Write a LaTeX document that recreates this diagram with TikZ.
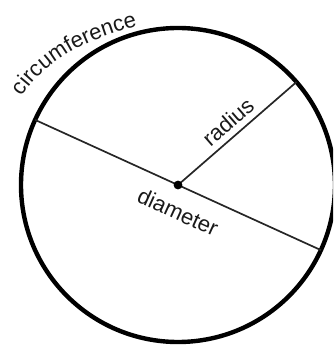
\documentclass[tikz,border=0pt]{standalone}
\usepackage{fontspec}
\setmainfont{Liberation Sans}
\usetikzlibrary{decorations.text,calc}
\begin{document}
\begin{tikzpicture}[x=1pt,y=1pt,
  rim/.style={line width=4.4pt, draw=black},
  seg/.style={line width=1.7pt, draw=black!85},
  lbl/.style={font=\fontsize{22}{26}\selectfont, text=black!90, inner sep=0pt}]
\useasboundingbox (0,0) rectangle (333,347);
\clip (0,0) rectangle (333,347);
\coordinate (O) at (178,162);
\coordinate (A) at ($(O)+(155.5:157)$);
\coordinate (B) at ($(O)+(-24.5:157)$);
\coordinate (R) at ($(O)+(41:157)$);
\coordinate (S) at (21,249);
\coordinate (E) at (139,321);
\draw[rim] (O) circle[radius=157];
\draw[seg] (A) -- (B);
\draw[seg] (O) -- (R);
\fill[black] (O) circle[radius=4.4];
\node[lbl, rotate=41] (rad) at (228,225) {radius};
\node[lbl, rotate=-24.5] (dia) at (178,135) {diameter};
\path[decorate, decoration={text along path, text align=center,
  text={|\fontsize{22}{26}\selectfont\color{black!90}|circumference}}]
  (S) .. controls (49,291) and (90,308) .. (E);
\end{tikzpicture}
\end{document}
